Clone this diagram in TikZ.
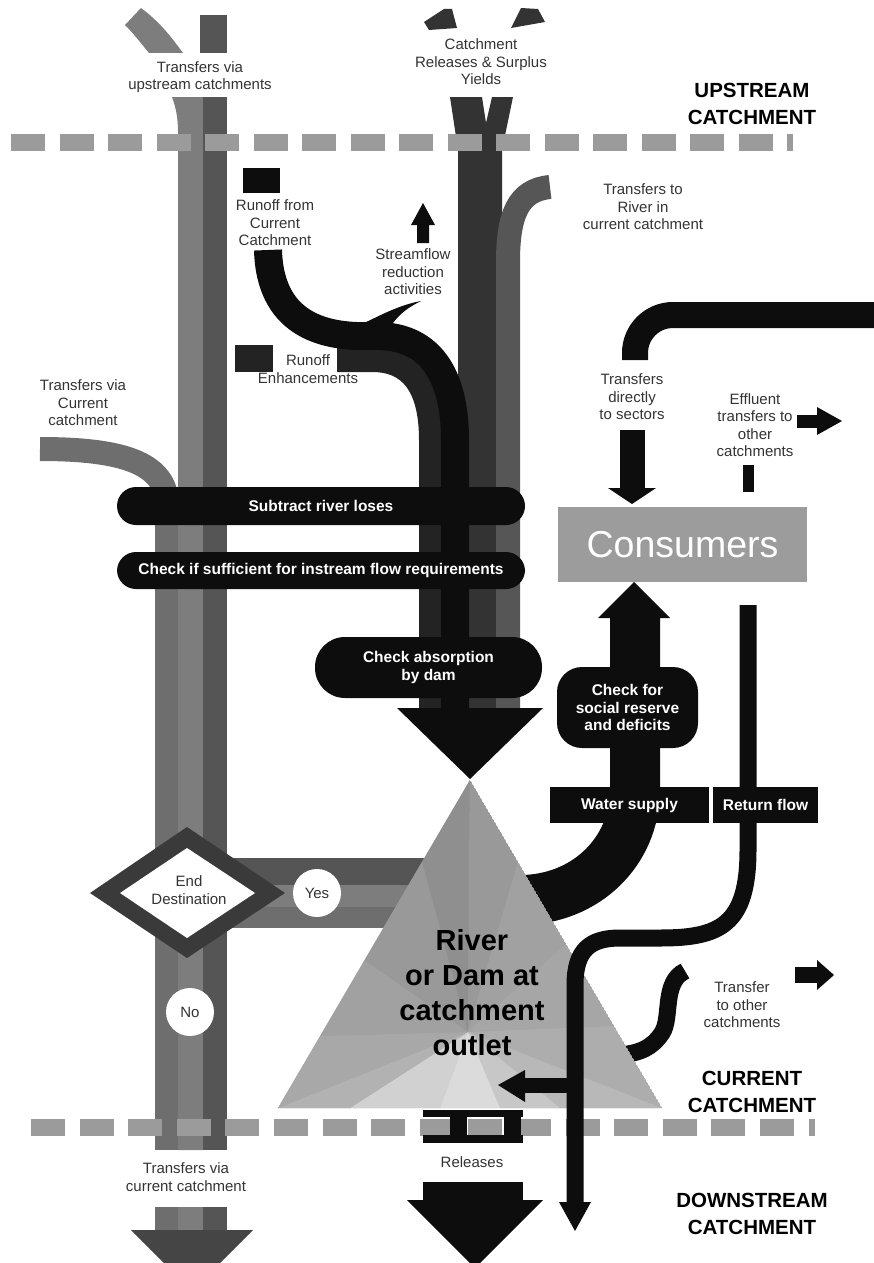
\documentclass[tikz,border=0pt]{standalone}
\usepackage{fontspec}
\setmainfont{Liberation Sans}
\definecolor{gA}{HTML}{6E6E6E}
\definecolor{gB}{HTML}{7D7D7D}
\definecolor{gC}{HTML}{555555}
\definecolor{hd}{HTML}{454545}
\definecolor{dashg}{HTML}{9B9B9B}
\definecolor{rel}{HTML}{333333}
\definecolor{trf}{HTML}{565656}
\definecolor{ro}{HTML}{0D0D0D}
\definecolor{enh}{HTML}{232323}
\definecolor{txt}{HTML}{333333}
\definecolor{cons}{HTML}{9C9C9C}
\definecolor{diam}{HTML}{3A3A3A}
\tikzset{
 lbl/.style={font=\fontsize{15}{17.5}\selectfont, text=txt, align=center, inner sep=0pt},
 bl/.style={font=\fontsize{15.5}{17.5}\selectfont\bfseries, text=white, align=center, inner sep=0pt},
 big/.style={font=\fontsize{20.5}{27}\selectfont\bfseries, text=black, align=center, inner sep=0pt},
 pill/.style={fill=ro, rounded corners=19pt, inner sep=0pt},
 blackbox/.style={fill=ro, inner sep=0pt},
 yn/.style={circle, fill=white, minimum size=48pt, inner sep=0pt, font=\fontsize{15}{17.5}\selectfont, text=txt},
}
\begin{document}
\begin{tikzpicture}[x=1pt,y=-1pt]
\useasboundingbox (0,0) rectangle (874,1263);
\clip (0,0) rectangle (874,1263);

% ---------- left column ----------
\fill[gB] (125,25) -- (141,8) .. controls (160,22) and (172,38) .. (183,53) -- (149,53) .. controls (140,42) and (133,33) .. cycle;
\fill[gC] (200,15) rectangle (227,53);
\fill[gB] (172,97) .. controls (176,108) and (178,118) .. (178,132) -- (178,1150) -- (203,1150) -- (203,97) -- cycle;
\fill[gC] (203,97) rectangle (227,1150);
\draw[gA, line width=24pt] (40,449) .. controls (120,449) and (167,462) .. (167,505);
\fill[gA] (155,500) rectangle (178,1150);
% horizontal band to outlet
\fill[gC] (227,858) rectangle (440,885);
\fill[gB] (227,885) rectangle (440,907);
\fill[gA] (227,907) rectangle (440,928);
% bottom stub + head
\fill[gA] (155,1207) rectangle (178,1232);
\fill[gB] (178,1207) rectangle (203,1232);
\fill[gC] (203,1207) rectangle (227,1232);
\fill[hd] (131,1230) -- (253,1230) -- (192,1291) -- cycle;

% ---------- middle column ----------
\fill[rel] (424,22) -- (444,9) -- (452,9) -- (457,28) -- (429,30) -- cycle;
\fill[rel] (511,28) -- (521,8) -- (538,9) -- (545,22) -- cycle;
\fill[rel] (450,97) -- (482,97) -- (486,123) -- (492,97) -- (513,97) -- (502,150) -- (502,708) -- (458,708) -- (458,150) -- cycle;
\draw[trf, line width=24pt] (550,187) .. controls (518,190) and (508,215) .. (508,262) -- (508,708);
\draw[enh, line width=24pt] (337,360) -- (372,360) .. controls (410,360) and (431,385) .. (431,440) -- (431,708);
\draw[ro, line width=28pt] (268,250) .. controls (270,322) and (320,338) .. (372,336) .. controls (430,334) and (455,375) .. (455,440) -- (455,708);
\fill[ro] (362,324) .. controls (385,313) and (400,305) .. (421,301) .. controls (405,309) and (394,318) .. (388,332) -- cycle;
\fill[ro] (417,243) -- (417,225) -- (411,225) -- (423,203) -- (435,225) -- (429,225) -- (429,243) -- cycle;
\fill[ro] (397,708) -- (543,708) -- (470,779) -- cycle;

% ---------- right side flows under the outlet ----------
\draw[ro, line width=50pt] (635,610) -- (635,790) .. controls (635,851) and (586,900) .. (520,900);
\draw[ro, line width=17pt] (685,971) .. controls (662,982) and (672,1018) .. (662,1033) .. controls (652,1048) and (640,1053) .. (620,1055);

% ---------- outlet triangle ----------
\begin{scope}
\clip (470,780) -- (278,1108) -- (662,1108) -- cycle;
\fill[fill=black!35] (470,780) -- (278,1108) -- (662,1108) -- cycle;
\coordinate (c) at (468,1032);
\fill[black!18] (c) -- (440,1108) -- (350,1108) -- cycle;
\fill[black!30] (c) -- (350,1108) -- (278,1108) -- cycle;
\fill[black!34] (c) -- (278,1108) -- (320,1036) -- cycle;
\fill[black!37] (c) -- (320,1036) -- (364,960) -- cycle;
\fill[black!40] (c) -- (364,960) -- (422,862) -- cycle;
\fill[black!44] (c) -- (422,862) -- (470,780) -- cycle;
\fill[black!40] (c) -- (470,780) -- (518,862) -- cycle;
\fill[black!37] (c) -- (518,862) -- (566,944) -- cycle;
\fill[black!35] (c) -- (566,944) -- (614,1026) -- cycle;
\fill[black!32] (c) -- (614,1026) -- (662,1108) -- cycle;
\fill[black!28] (c) -- (662,1108) -- (560,1108) -- cycle;
\fill[black!22] (c) -- (560,1108) -- (500,1108) -- cycle;
\fill[black!14] (c) -- (500,1108) -- (440,1108) -- cycle;
\end{scope}
\node[font=\fontsize{29}{35}\selectfont\bfseries, align=center, inner sep=0pt] (outlet) at (472,993) {River\\or Dam at\\catchment\\outlet};

% ---------- dashed catchment borders ----------
\draw[dashg, line width=17pt, dash pattern=on 34pt off 14.5pt] (11,142) -- (793,142);
\draw[dashg, line width=17pt, dash pattern=on 34pt off 14.6pt] (31,1127) -- (815,1127);

% ---------- return flow ----------
\draw[ro, line width=17pt] (748,605) -- (748,850) .. controls (748,925) and (720,938) .. (660,938) -- (620,938) .. controls (590,938) and (575,950) .. (575,985) -- (575,1205);
\fill[ro] (559,1202) -- (591,1202) -- (575,1231) -- cycle;
\fill[ro] (524,1078) rectangle (576,1093);
\fill[ro] (525,1070) -- (498,1085) -- (525,1102) -- cycle;

% ---------- releases ----------
\fill[ro] (423,1110) rectangle (523,1117);
\fill[ro] (423,1135) rectangle (523,1143);
\fill[ro] (450,1110) rectangle (467,1143);
\fill[ro] (504,1110) rectangle (521,1143);
\fill[ro] (423,1182) rectangle (523,1201);
\fill[ro] (407,1200) -- (543,1200) -- (475,1268) -- cycle;

% ---------- decision diamond ----------
\fill[diam] (90,893) -- (187,827) -- (285,893) -- (187,958) -- cycle;
\fill[white] (120,893) -- (187,848) -- (255,893) -- (187,938) -- cycle;
\node[lbl] (enddest) at (189,890) {End\\Destination};
\node[yn] (yes) at (317,893) {Yes};
\node[yn] (no) at (190,1012) {No};

% ---------- pills ----------
\node[pill, bl, minimum width=408pt, minimum height=38pt] (sub) at (321,506) {Subtract river loses};
\node[pill, bl, minimum width=408pt, minimum height=37pt] (chk) at (321,570.5) {Check if sufficient for instream flow requirements};
\node[pill, bl, rounded corners=30pt, minimum width=227pt, minimum height=61pt] (abs) at (428.5,667.5) {Check absorption\\by dam};

% ---------- consumers ----------
\draw[ro, line width=26pt, rounded corners=38pt] (635,360) -- (635,315) -- (880,315);
\fill[ro] (620,430) rectangle (645,489);
\fill[ro] (608,488) -- (656,488) -- (632,504) -- cycle;
\node[fill=cons, minimum width=249pt, minimum height=75pt, inner sep=0pt, text=white, font=\fontsize{37.5}{40}\selectfont] (cons) at (682.5,544.5) {Consumers};
\fill[ro] (598,618) -- (634,582) -- (670,618) -- cycle;
\node[pill, bl, rounded corners=25pt, minimum width=141pt, minimum height=81pt] (reserve) at (627.5,707.5) {Check for\\social reserve\\and deficits};
\node[blackbox, bl, minimum width=159pt, minimum height=36pt] (ws) at (629.5,805) {Water supply};
\node[blackbox, bl, minimum width=105pt, minimum height=36pt] (rf) at (765.5,805) {Return flow};
\fill[ro] (797,415) rectangle (818,428);
\fill[ro] (817,407) -- (842,421) -- (817,435) -- cycle;
\fill[ro] (743,465) rectangle (754,492);
\fill[ro] (795,967) rectangle (818,983);
\fill[ro] (817,960) -- (834,975) -- (817,990) -- cycle;

% ---------- small squares ----------
\fill[ro] (243,168) rectangle (280,193);
\fill[enh] (235,345) rectangle (273,372);

% ---------- labels ----------
\node[lbl] (l1) at (200,77) {Transfers via\\upstream catchments};
\node[lbl] (l2) at (481,62) {Catchment\\Releases \& Surplus\\Yields};
\node[lbl] (l3) at (275,223) {Runoff from\\Current\\Catchment};
\node[lbl] (l4) at (413,272) {Streamflow\\reduction\\activities};
\node[lbl] (l5) at (643,207) {Transfers to\\River in\\current catchment};
\node[lbl] (l6) at (308,369) {Runoff\\Enhancements};
\node[lbl] (l7) at (83,403) {Transfers via\\Current\\catchment};
\node[lbl] (l8) at (632,397) {Transfers\\directly\\to sectors};
\node[lbl] (l9) at (755,425) {Effluent\\transfers to\\other\\catchments};
\node[lbl] (l10) at (742,1005) {Transfer\\to other\\catchments};
\node[lbl] (l11) at (186,1177) {Transfers via\\current catchment};
\node[lbl] (l12) at (472,1162) {Releases};
\node[big] (up) at (752,103.5) {UPSTREAM\\CATCHMENT};
\node[big] (cur) at (752,1091.5) {CURRENT\\CATCHMENT};
\node[big] (down) at (752,1213.5) {DOWNSTREAM\\CATCHMENT};
\end{tikzpicture}
\end{document}
